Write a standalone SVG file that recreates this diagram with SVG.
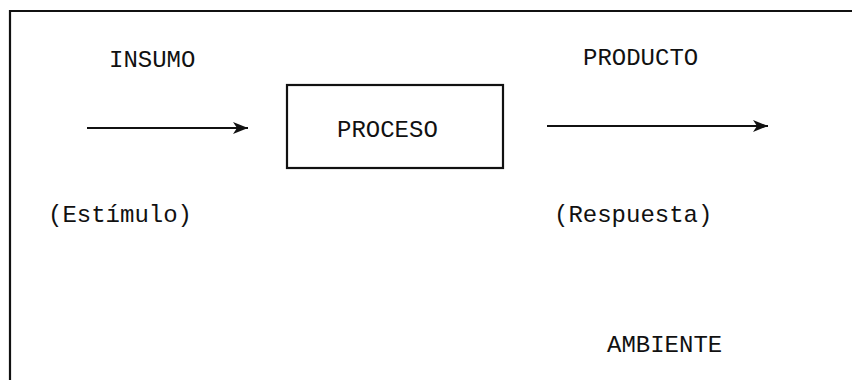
<svg xmlns="http://www.w3.org/2000/svg" width="854" height="380" viewBox="0 0 854 380">
<style>
.t{font-family:"Liberation Mono","DejaVu Sans Mono",monospace;font-size:24px;fill:#111}
.ln{stroke:#111;stroke-width:2.2;fill:none}
</style>
<defs>
<marker id="ah" markerWidth="18" markerHeight="12" refX="15" refY="6" orient="auto" markerUnits="userSpaceOnUse">
<path d="M0,0 L15,6 L0,12 L4,6 Z" fill="#111"/>
</marker>
</defs>
<rect width="854" height="380" fill="#fff"/>
<g id="frame">
<path class="ln" d="M10,380 L10,11 L852,11" stroke-width="2.5"/>
</g>
<g id="proceso">
<rect x="287" y="85" width="216" height="83" class="ln"/>
<text class="t" x="337" y="137">PROCESO</text>
</g>
<g id="insumo">
<text class="t" x="109" y="67">INSUMO</text>
<text class="t" x="48" y="222">(Estímulo)</text>
</g>
<g id="producto">
<text class="t" x="583" y="65">PRODUCTO</text>
<text class="t" x="554" y="222">(Respuesta)</text>
</g>
<g id="ambiente">
<text class="t" x="607" y="352">AMBIENTE</text>
</g>
<g id="connectors">
<line class="ln" x1="87" y1="128" x2="248" y2="128" marker-end="url(#ah)"/>
<line class="ln" x1="547" y1="126" x2="768" y2="126" marker-end="url(#ah)"/>
</g>
</svg>
